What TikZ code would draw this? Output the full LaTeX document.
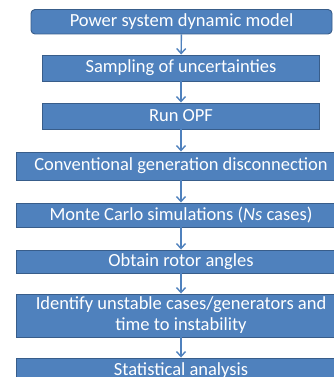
\documentclass[tikz,border=0pt]{standalone}
\usepackage{fontspec}
\setmainfont{Carlito}
\usetikzlibrary{arrows.meta}
\definecolor{boxfill}{HTML}{4F81BD}
\definecolor{boxline}{HTML}{385D8A}
\begin{document}
\begin{tikzpicture}[x=1pt,y=-1pt,
  flowbox/.style={draw=boxline, line width=0.9pt, fill=boxfill, text=white,
    font=\fontsize{18.5}{21}\selectfont, inner sep=0pt, align=center},
  flowarrow/.style={draw=boxfill, line width=1.4pt, -{Straight Barb[length=5pt,width=9pt,line width=1.4pt]}}]
\useasboundingbox (0,0) rectangle (334,377);
\clip (0,0) rectangle (334,377);
\node[flowbox, rounded corners=4pt, minimum width=301, minimum height=24.5] (b1) at (181.5,21.75) {Power system dynamic model};
\node[flowbox, minimum width=277, minimum height=26] (b2) at (181,68) {Sampling of uncertainties};
\node[flowbox, minimum width=277, minimum height=26] (b3) at (181,116) {Run OPF};
\node[flowbox, minimum width=330, minimum height=28] (b4) at (181,166) {Conventional generation disconnection};
\node[flowbox, minimum width=330, minimum height=24] (b5) at (181,215) {Monte Carlo simulations (\textit{Ns} cases)};
\node[flowbox, minimum width=330, minimum height=23] (b6) at (181,261.5) {Obtain rotor angles};
\node[flowbox, minimum width=330, minimum height=43] (b7) at (181,315.5) {Identify unstable cases/generators and\\time to instability};
\node[flowbox, minimum width=330, minimum height=26] (b8) at (181,371) {Statistical analysis};
\draw[flowarrow] (b1) -- (b2);
\draw[flowarrow] (b2) -- (b3);
\draw[flowarrow] (b3) -- (b4);
\draw[flowarrow] (b4) -- (b5);
\draw[flowarrow] (b5) -- (b6);
\draw[flowarrow] (b6) -- (b7);
\draw[flowarrow] (b7) -- (b8);
\end{tikzpicture}
\end{document}
